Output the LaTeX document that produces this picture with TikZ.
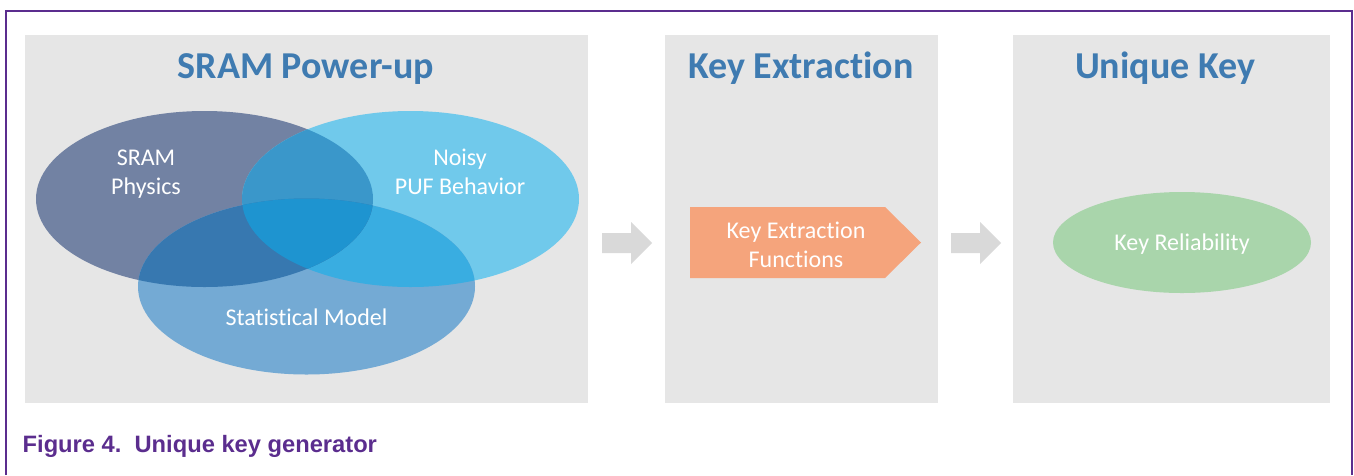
\documentclass[tikz,border=0pt]{standalone}
\usepackage{xcolor}
\usepackage{fontspec}
\setmainfont{Carlito}[Ligatures={NoCommon,NoContextual}]
\newfontfamily\capfont{Liberation Sans}
\usetikzlibrary{shapes.geometric}

\definecolor{panelgray}{HTML}{E6E6E6}
\definecolor{arrowgray}{HTML}{D9D9D9}
\definecolor{titleblue}{HTML}{3F7BB1}
\definecolor{physcol}{HTML}{7282A3}
\definecolor{noisycol}{HTML}{70C9EB}
\definecolor{statcol}{HTML}{74AAD4}
\definecolor{abcol}{HTML}{3A97CA}
\definecolor{accol}{HTML}{3778B0}
\definecolor{bccol}{HTML}{39ADE1}
\definecolor{abccol}{HTML}{1E94D0}
\definecolor{kefcol}{HTML}{F5A47C}
\definecolor{relcol}{HTML}{A9D5AB}
\definecolor{nxppurple}{HTML}{5B2D8E}

\tikzset{
  panel/.style={fill=panelgray},
  paneltitle/.style={text=titleblue, anchor=base, font=\fontsize{38}{44}\selectfont\bfseries},
  venn/.style={ellipse, minimum width=337pt, minimum height=176pt, inner sep=0pt},
  lbl/.style={text=white, align=center, inner sep=0pt, font=\fontsize{24}{29}\selectfont},
  blockarrow/.style={fill=arrowgray},
}

\begin{document}
\begin{tikzpicture}[x=1pt,y=-1pt]
    \useasboundingbox (0,0) rectangle (1354,475);
    \draw[nxppurple, line width=2.5pt] (6,475) -- (6,11) -- (1352,11) -- (1352,475);

    \fill[panel] (25,35) rectangle (588,403);
    \fill[panel] (665,35) rectangle (938,403);
    \fill[panel] (1013,35) rectangle (1330,403);

    \node[paneltitle] (t1) at (306,78) {SRAM Power-up};
    \node[paneltitle] (t2) at (801,78) {Key Extraction};
    \node[paneltitle] (t3) at (1165,78) {Unique Key};

    \node[venn, fill=physcol] (phys) at (204.5,199) {};
    \node[venn, fill=noisycol] (noisy) at (410.5,199) {};
    \node[venn, fill=statcol] (stat) at (306.5,286.5) {};
    \begin{scope}
        \clip (noisy.center) ellipse [x radius=168.5pt, y radius=88pt];
        \fill[bccol] (stat.center) ellipse [x radius=168.5pt, y radius=88pt];
    \end{scope}
    \begin{scope}
        \clip (phys.center) ellipse [x radius=168.5pt, y radius=88pt];
        \fill[abcol] (noisy.center) ellipse [x radius=168.5pt, y radius=88pt];
        \fill[accol] (stat.center) ellipse [x radius=168.5pt, y radius=88pt];
        \clip (noisy.center) ellipse [x radius=168.5pt, y radius=88pt];
        \fill[abccol] (stat.center) ellipse [x radius=168.5pt, y radius=88pt];
    \end{scope}
    \node[lbl, anchor=north] (physlbl) at (146,149.5) {SRAM\\Physics};
    \node[lbl, anchor=north] (noisylbl) at (460,149) {Noisy\\PUF Behavior};
    \node[lbl, anchor=base] (statlbl) at (306.5,325) {Statistical Model};

    \fill[blockarrow] (602,233) -- (631,233) -- (631,222) -- (652,243) -- (631,264) -- (631,253) -- (602,253) -- cycle;
    \fill[blockarrow] (951,233) -- (980,233) -- (980,222) -- (1001,243) -- (980,264) -- (980,253) -- (951,253) -- cycle;

    \fill[kefcol] (690,207) -- (885,207) -- (921,242.5) -- (885,278) -- (690,278) -- cycle;
    \node[lbl, anchor=north] (kef) at (796,221.5) {Key Extraction\\Functions};

    \node[ellipse, fill=relcol, minimum width=258pt, minimum height=101pt, inner sep=0pt, text depth=0pt,
          text=white, font=\fontsize{24}{29}\selectfont] (rel) at (1182,242.5) {Key Reliability};

    \node[anchor=base west, inner sep=0pt, text=nxppurple, font=\capfont\bfseries\fontsize{23.7}{28}\selectfont] (cap) at (22.5,452) {Figure 4.\ \ Unique key generator};
\end{tikzpicture}
\end{document}
